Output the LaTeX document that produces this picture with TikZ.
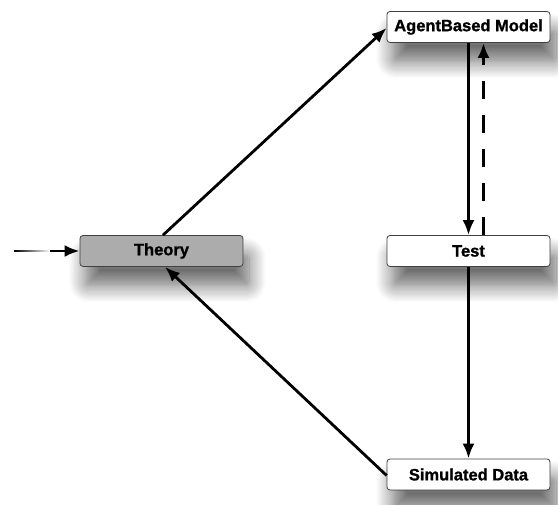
\documentclass[tikz,border=0pt]{standalone}
\usepackage{fontspec}
\setmainfont{Liberation Sans}[BoldFeatures={FakeBold=1.2}]
\usetikzlibrary{arrows.meta,shadows.blur}
\begin{document}
\begin{tikzpicture}[x=1pt,y=1pt,
  box/.style={draw=black!75, line width=0.8pt, rounded corners=3pt, minimum width=163pt, minimum height=31pt,
    inner sep=0pt, font=\bfseries\fontsize{16.5}{18}\selectfont, fill=white,
    blur shadow={shadow xshift=6pt, shadow yshift=-19pt, shadow blur radius=17pt, shadow opacity=60, shadow blur steps=14}},
  conn/.style={line width=2.8pt, -{Latex[length=15pt,width=12pt]}},
  dconn/.style={conn, dash pattern=on 18pt off 16pt}
]
\useasboundingbox (0,0) rectangle (558,505);
\node[box] (abm) at (468.5,478) {AgentBased Model};
\node[box, fill={rgb,255:red,172;green,172;blue,172}] (theory) at (161.5,254) {Theory};
\node[box] (test) at (468.5,254) {Test};
\node[box] (sim) at (468.5,30.5) {Simulated Data};

\coordinate (in) at (14,254);
\coordinate (inmid) at (50,254);
\foreach \i in {0,...,17}{
  \pgfmathsetmacro{\c}{100-\i*100/18}
  \draw[line width=2.8pt, color=black!\c!white] ([xshift=\i*2pt]in) -- ([xshift=\i*2pt+2.2pt]in);
}
\draw[conn] (inmid) -- (theory.west);

\draw[conn] ([xshift=1.5pt]theory.north) -- ([yshift=-1pt]abm.west);
\draw[conn] ([yshift=-1pt]sim.west) -- ([xshift=3.5pt]theory.south);
\draw[conn] (abm.south) -- (test.north);
\draw[dconn] ([xshift=15pt]test.north) -- ([xshift=15pt]abm.south);
\draw[conn] (test.south) -- (sim.north);
\end{tikzpicture}
\end{document}
